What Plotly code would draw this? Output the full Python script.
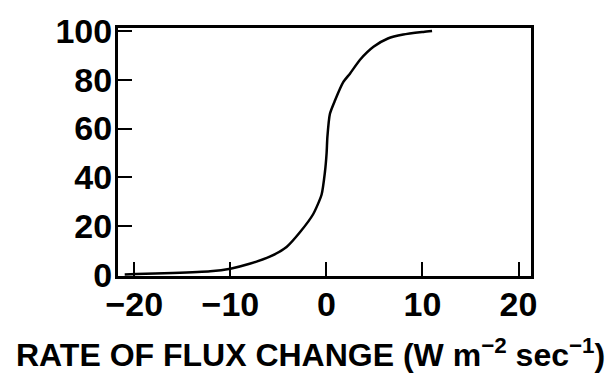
import plotly.graph_objects as go

# Cumulative distribution of the rate of flux change
rate = [-21.0, -19.8, -16.0, -12.1, -10.0, -8.0, -5.9, -4.15, -2.76, -1.37,
        -0.5, -0.16, 0.02, 0.1, 0.36, 0.89, 1.75, 2.45, 3.5, 4.9, 6.4, 8.0, 10.1, 11.0]
percent = [0.2, 0.4, 0.8, 1.5, 2.6, 4.6, 7.5, 11.5, 17.5, 25.0,
           33.0, 42.0, 50.0, 56.5, 66.0, 71.5, 79.0, 82.5, 88.2, 93.5, 96.9, 98.5, 99.6, 100.0]

x_ticks = [-20, -10, 0, 10, 20]
y_ticks = [0, 20, 40, 60, 80, 100]

FONT = "Liberation Sans, Arial, sans-serif"

fig = go.Figure()
fig.add_trace(go.Scatter(
    x=rate, y=percent, mode="lines",
    line=dict(color="black", width=2.5, shape="spline", smoothing=0.6),
    hoverinfo="skip", showlegend=False,
))

axis_common = dict(
    showline=True, linecolor="black", linewidth=3, mirror=True,
    ticks="inside", tickcolor="black", tickwidth=2, ticklen=14,
    showgrid=False, zeroline=False,
    tickfont=dict(family=FONT, size=34, color="black", weight="bold"),
)

fig.update_xaxes(range=[-21.7, 21.3], tickvals=x_ticks, ticklabelstandoff=-4, **axis_common)
fig.update_yaxes(range=[-0.4, 101.2], tickvals=y_ticks, ticklabelstandoff=-4, **axis_common)

fig.add_annotation(
    xref="paper", yref="paper", x=0.465, y=-0.31, xanchor="center", yanchor="middle",
    text="RATE OF FLUX CHANGE (W m<sup>−2</sup> sec<sup>−1</sup>)",
    showarrow=False,
    font=dict(family=FONT, size=32, color="black", weight="bold"),
)

fig.update_layout(
    width=613, height=378,
    margin=dict(l=118, r=82, t=22, b=102),
    paper_bgcolor="white", plot_bgcolor="white",
)

fig.write_html("out.html")
